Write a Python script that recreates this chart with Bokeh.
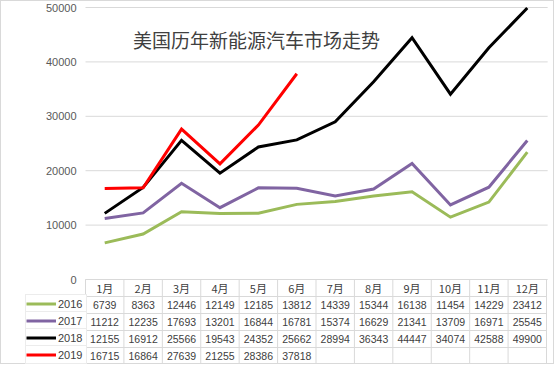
from bokeh.plotting import figure
from bokeh.models import Range1d, FixedTicker, Legend, LegendItem, Label
from bokeh.core.properties import value
from bokeh.embed import file_html
from bokeh.resources import INLINE

# ---- data ----
months = ["1月", "2月", "3月", "4月", "5月", "6月", "7月", "8月", "9月", "10月", "11月", "12月"]
years = ["2016", "2017", "2018", "2019"]
sales_2016 = [6739, 8363, 12446, 12149, 12185, 13812, 14339, 15344, 16138, 11454, 14229, 23412]
sales_2017 = [11212, 12235, 17693, 13201, 16844, 16781, 15374, 16629, 21341, 13709, 16971, 25545]
sales_2018 = [12155, 16912, 25566, 19543, 24352, 25662, 28994, 36343, 44447, 34074, 42588, 49900]
sales_2019 = [16715, 16864, 27639, 21255, 28386, 37818]
y_ticks = [0, 10000, 20000, 30000, 40000, 50000]
title_text = "美国历年新能源汽车市场走势"

series = [sales_2016, sales_2017, sales_2018, sales_2019]
colors = ["#9BBB59", "#8064A2", "#000000", "#FF0000"]

# ---- layout (pixels) ----
W, H = 554, 364              # + 1px CSS border on each side
LEFT = 23                    # frame left edge (table's left border)
RIGHT = 7
TOP_PAD = 2                  # above the top gridline
CHART_PX = 272               # 0 .. 50000
ROW_PX = 17
N_ROWS = 1 + len(years)
TABLE_PX = ROW_PX * N_ROWS
BOTTOM_PAD = 1
FRAME_H = TOP_PAD + CHART_PX + TABLE_PX + BOTTOM_PAD
TOP = H - FRAME_H
KEY_COL_PX = 61              # legend column (incl. 1px inset)
COL_PX = 461 / len(months)

YMAX = y_ticks[-1]
ypp = YMAX / CHART_PX        # data units per pixel
y_start = -(TABLE_PX + BOTTOM_PAD) * ypp
y_end = YMAX + TOP_PAD * ypp
FRAME_W = W - LEFT - RIGHT
x_start = -KEY_COL_PX / COL_PX
x_end = x_start + FRAME_W / COL_PX

month_x = [i + 0.5 for i in range(len(months))]

grid_color = "#d9d9d9"
text_color = "#404040"

p = figure(width=W, height=H, title=None,
           x_range=Range1d(x_start, x_end), y_range=Range1d(y_start, y_end),
           output_backend="svg", toolbar_location=None,
           min_border_left=LEFT, min_border_right=RIGHT,
           min_border_top=TOP, min_border_bottom=0)
p.styles = {"border": "1px solid #d9d9d9"}
p.outline_line_color = None
p.background_fill_color = "white"
p.border_fill_color = "white"

p.xaxis.visible = False
p.xgrid.visible = False
p.ygrid.visible = False

ticker = FixedTicker(ticks=y_ticks)
p.yaxis.ticker = ticker
p.yaxis.axis_line_color = None
p.yaxis.major_tick_line_color = None
p.yaxis.minor_tick_line_color = None
p.yaxis.major_tick_out = 0
p.yaxis.major_tick_in = 0
p.yaxis.major_label_standoff = -(KEY_COL_PX - 9)
p.yaxis.major_label_text_font = "Liberation Sans"
p.yaxis.major_label_text_font_size = "11px"
p.yaxis.major_label_text_color = "#595959"

# ---- chart gridlines (only over the month columns) ----
p.segment(x0=[0] * len(y_ticks), x1=[len(months) + 0.03] * len(y_ticks), y0=y_ticks, y1=y_ticks,
          line_color=grid_color, line_width=1)

# ---- table grid ----
row_ys = [-i * ROW_PX * ypp for i in range(N_ROWS + 1)]
p.segment(x0=[0] * len(row_ys), x1=[len(months)] * len(row_ys), y0=row_ys, y1=row_ys,
          line_color=grid_color, line_width=1)
col_xs = list(range(len(months) + 1))
p.segment(x0=col_xs, x1=col_xs, y0=[0] * len(col_xs), y1=[row_ys[-1]] * len(col_xs),
          line_color=grid_color, line_width=1)

# header
p.text(x=month_x, y=[-(ROW_PX / 2) * ypp] * len(months), text=months,
       text_align="center", text_baseline="middle",
       text_font=value("Noto Sans CJK SC"), text_font_size="11px", text_color=text_color)

# ---- lines + table values + legend keys ----
for k, (yr, vals, col) in enumerate(zip(years, series, colors)):
    r = p.line(x=month_x[:len(vals)], y=vals, line_color=col, line_width=3, line_join="miter")
    yc = -(ROW_PX * (k + 1) + ROW_PX / 2) * ypp
    p.text(x=month_x[:len(vals)], y=[yc] * len(vals), text=[str(v) for v in vals],
           text_align="center", text_baseline="middle",
           text_font=value("Liberation Sans"), text_font_size="10.5px", text_color=text_color)
    leg = Legend(items=[LegendItem(label=yr, renderers=[r])],
                 location=(1, TABLE_PX + BOTTOM_PAD - ROW_PX * (k + 2)),
                 orientation="vertical", padding=0, margin=0, spacing=0,
                 glyph_width=30, glyph_height=ROW_PX, label_height=ROW_PX,
                 label_width=28, label_standoff=2,
                 label_text_font="Liberation Sans", label_text_font_size="11px",
                 label_text_color=text_color, label_text_baseline="middle",
                 border_line_color=grid_color, border_line_width=1,
                 background_fill_color="white", background_fill_alpha=1.0)
    p.add_layout(leg)

# ---- title ----
p.add_layout(Label(x=4.45, y=44100, text=title_text, text_align="center",
                   text_baseline="middle", text_font="Noto Sans CJK SC",
                   text_font_size="19px", text_color="#404040"))

open("out.html", "w").write(file_html(p, INLINE))
